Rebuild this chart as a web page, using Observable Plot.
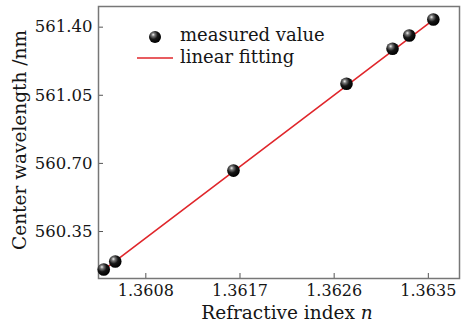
<!DOCTYPE html>
<html>
<head>
<meta charset="utf-8">
<script src="https://cdn.jsdelivr.net/npm/d3@7"></script>
<script src="https://cdn.jsdelivr.net/npm/@observablehq/plot@0.6"></script>
<style>
  html, body { margin: 0; padding: 0; background: #fff; }
  #chart svg { display: block; }
</style>
</head>
<body>
<div id="chart"></div>
<script>
// Data
const refractiveIndex = [1.36035, 1.36046, 1.36159, 1.36267, 1.36311, 1.36327, 1.3635];
const centerWavelength = [560.150, 560.191, 560.658, 561.104, 561.284, 561.352, 561.434];
const fitIndex = [1.36035, 1.3635];
const fitWavelength = [560.148, 561.432];
const xTicks = [1.3608, 1.3617, 1.3626, 1.3635];
const yTicks = [560.35, 560.70, 561.05, 561.40];
const legendLabels = ["measured value", "linear fitting"];
const xTitle = "Refractive index ";
const xTitleItalic = "n";
const yTitle = "Center wavelength /nm";

const points = refractiveIndex.map((n, i) => ({n, w: centerWavelength[i]}));
const fit = fitIndex.map((n, i) => ({n, w: fitWavelength[i]}));

const font = "DejaVu Serif";
const red = "#e0262b";
const ink = "#151515";

const chart = Plot.plot({
  width: 461,
  height: 325,
  marginLeft: 98,
  marginRight: 2,
  marginTop: 6,
  marginBottom: 47,
  style: {fontFamily: font, fontSize: "16px", color: ink, background: "#fff"},
  x: {domain: [1.3603, 1.36375]},
  y: {domain: [560.1035, 561.501]},
  marks: [
    Plot.axisX(xTicks, {tickSize: -5, tickPadding: 11, tickFormat: d => d.toFixed(4), label: null, stroke: "#555", fontSize: 16, dx: -5}),
    Plot.axisY(yTicks, {tickSize: -5, tickPadding: 11, tickFormat: d => d.toFixed(2), label: null, stroke: "#555", fontSize: 16.5, dy: 1}),
    Plot.frame({stroke: "#777", strokeWidth: 1.5}),
    Plot.line(fit, {x: "n", y: "w", stroke: red, strokeWidth: 1.6}),
    Plot.dot(points, {x: "n", y: "w", r: 6.3, fill: "url(#ball)", stroke: "none"})
  ]
});

const svg = d3.select(chart);
const defs = svg.insert("defs", ":first-child");
const g = defs.append("radialGradient").attr("id", "ball")
  .attr("cx", "38%").attr("cy", "35%").attr("r", "65%").attr("fx", "35%").attr("fy", "30%");
g.append("stop").attr("offset", "0%").attr("stop-color", "#f2f2f2");
g.append("stop").attr("offset", "22%").attr("stop-color", "#777");
g.append("stop").attr("offset", "55%").attr("stop-color", "#161616");
g.append("stop").attr("offset", "100%").attr("stop-color", "#000");

// Legend
const lg = svg.append("g").attr("font-family", font).attr("font-size", 18).attr("fill", ink).attr("text-anchor", "start");
lg.append("circle").attr("cx", 155).attr("cy", 37).attr("r", 6).attr("fill", "url(#ball)");
lg.append("text").attr("x", 180).attr("y", 41).text(legendLabels[0]);
lg.append("line").attr("x1", 137).attr("x2", 173).attr("y1", 58).attr("y2", 58)
  .attr("stroke", red).attr("stroke-width", 1.6);
lg.append("text").attr("x", 180).attr("y", 63).text(legendLabels[1]);

// Axis titles
const xt = svg.append("text").attr("x", 287).attr("y", 319).attr("text-anchor", "middle")
  .attr("font-family", font).attr("font-size", 18.5).attr("fill", ink);
xt.append("tspan").text(xTitle);
xt.append("tspan").attr("font-style", "italic").text(xTitleItalic);

svg.append("text").attr("transform", "translate(26,140) rotate(-90)").attr("text-anchor", "middle")
  .attr("font-family", font).attr("font-size", 18.5).attr("fill", ink).text(yTitle);

document.getElementById("chart").appendChild(chart);
</script>
</body>
</html>
